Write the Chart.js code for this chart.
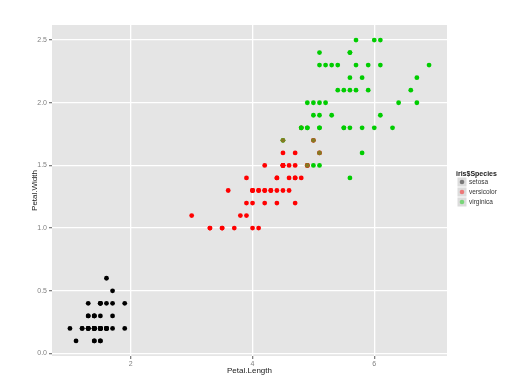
<!DOCTYPE html>
<html><head><meta charset="utf-8">
<script src="https://cdn.jsdelivr.net/npm/chart.js@4.4.0/dist/chart.umd.min.js"></script>
<style>html,body{margin:0;padding:0;background:#fff;}#wrap{width:531px;height:392px;}</style>
</head><body><div id="wrap"><canvas id="c" width="531" height="392"></canvas></div>
<script>
const speciesNames = ['setosa', 'versicolor', 'virginica'];
const speciesColors = ['#000000', '#ff0000', '#00cd00'];
const setosaLength = [1.4,1.4,1.3,1.5,1.4,1.7,1.4,1.5,1.4,1.5,1.5,1.6,1.4,1.1,1.2,1.5,1.3,1.4,1.7,1.5,1.7,1.5,1.0,1.7,1.9,1.6,1.6,1.5,1.4,1.6,1.6,1.5,1.5,1.4,1.5,1.2,1.3,1.4,1.3,1.5,1.3,1.3,1.3,1.6,1.9,1.4,1.6,1.4,1.5,1.4];
const setosaWidth = [0.2,0.2,0.2,0.2,0.2,0.4,0.3,0.2,0.2,0.1,0.2,0.2,0.1,0.1,0.2,0.4,0.4,0.3,0.3,0.3,0.2,0.4,0.2,0.5,0.2,0.2,0.4,0.2,0.2,0.2,0.2,0.4,0.1,0.2,0.2,0.2,0.2,0.1,0.2,0.2,0.3,0.3,0.2,0.6,0.4,0.3,0.2,0.2,0.2,0.2];
const versicolorLength = [4.7,4.5,4.9,4.0,4.6,4.5,4.7,3.3,4.6,3.9,3.5,4.2,4.0,4.7,3.6,4.4,4.5,4.1,4.5,3.9,4.8,4.0,4.9,4.7,4.3,4.4,4.8,5.0,4.5,3.5,3.8,3.7,3.9,5.1,4.5,4.5,4.7,4.4,4.1,4.0,4.4,4.6,4.0,3.3,4.2,4.2,4.2,4.3,3.0,4.1];
const versicolorWidth = [1.4,1.5,1.5,1.3,1.5,1.3,1.6,1.0,1.3,1.4,1.0,1.5,1.0,1.4,1.3,1.4,1.5,1.0,1.5,1.1,1.8,1.3,1.5,1.2,1.3,1.4,1.4,1.7,1.5,1.0,1.1,1.0,1.2,1.6,1.5,1.6,1.5,1.3,1.3,1.3,1.2,1.4,1.2,1.0,1.3,1.2,1.3,1.3,1.1,1.3];
const virginicaLength = [6.0,5.1,5.9,5.6,5.8,6.6,4.5,6.3,5.8,6.1,5.1,5.3,5.5,5.0,5.1,5.3,5.5,6.7,6.9,5.0,5.7,4.9,6.7,4.9,5.7,6.0,4.8,4.9,5.6,5.8,6.1,6.4,5.6,5.1,5.6,6.1,5.6,5.5,4.8,5.4,5.6,5.1,5.9,5.7,5.2,5.0,5.2,5.4,5.1,5.1];
const virginicaWidth = [2.5,1.9,2.1,1.8,2.2,2.1,1.7,1.8,1.8,2.5,2.0,1.9,2.1,2.0,2.4,2.3,1.8,2.2,2.3,1.5,2.3,2.0,2.0,1.8,2.1,1.8,1.8,1.8,2.1,1.6,1.9,2.0,2.2,1.5,1.4,2.3,2.4,1.8,1.8,2.1,2.4,2.3,2.3,2.5,2.3,1.9,2.0,2.3,1.8,1.8];
// points drawn in a mixed (olive) colour in the reference
const mixedLength = [4.9, 5.0, 5.1, 4.5];
const mixedWidth = [1.5, 1.7, 1.6, 1.7];
const xTicks = [2, 4, 6];
const yTicks = [0.0, 0.5, 1.0, 1.5, 2.0, 2.5];
const xTitle = 'Petal.Length';
const yTitle = 'Petal.Width';
const legendTitle = 'iris$Species';

const FONT = '"Liberation Sans", Arial, sans-serif';
const toPts = (xs, ys) => xs.map((x, i) => ({x: x, y: ys[i]}));
const seriesL = [setosaLength, versicolorLength, virginicaLength];
const seriesW = [setosaWidth, versicolorWidth, virginicaWidth];

const datasets = speciesNames.map((n, i) => ({
  label: n,
  data: toPts(seriesL[i], seriesW[i]),
  backgroundColor: speciesColors[i],
  borderWidth: 0,
  pointRadius: 2.4,
  pointHoverRadius: 2.4,
  order: 3 - i
}));
datasets.push({
  label: 'mixed',
  data: toPts(mixedLength, mixedWidth),
  backgroundColor: '#857a22',
  borderWidth: 0,
  pointRadius: 2.4,
  pointHoverRadius: 2.4,
  order: -1
});

const panelBg = {
  id: 'panelBg',
  beforeDraw(chart) {
    const {ctx, chartArea: a} = chart;
    ctx.save();
    ctx.fillStyle = '#e5e5e5';
    ctx.fillRect(a.left, a.top, a.right - a.left, a.bottom - a.top);
    ctx.restore();
  }
};

const decor = {
  id: 'decor',
  afterDraw(chart) {
    const {ctx, chartArea: a} = chart;
    ctx.save();
    ctx.fillStyle = '#1a1a1a';
    ctx.font = '8px ' + FONT;
    ctx.textAlign = 'center';
    ctx.textBaseline = 'middle';
    ctx.fillText(xTitle, (a.left + a.right) / 2, 371);
    ctx.save();
    ctx.translate(35, (a.top + a.bottom) / 2);
    ctx.rotate(-Math.PI / 2);
    ctx.fillText(yTitle, 0, 0);
    ctx.restore();
    // legend
    ctx.textAlign = 'left';
    ctx.font = 'bold 7px ' + FONT;
    ctx.fillText(legendTitle, 456, 174);
    ctx.font = '6.5px ' + FONT;
    speciesNames.forEach((n, i) => {
      const cy = 182 + i * 10;
      ctx.fillStyle = '#dcdcdc';
      ctx.fillRect(457.5, cy - 4.5, 9, 9);
      ctx.globalAlpha = 0.45;
      ctx.fillStyle = speciesColors[i];
      ctx.beginPath();
      ctx.arc(462, cy, 2.3, 0, Math.PI * 2);
      ctx.fill();
      ctx.globalAlpha = 1;
      ctx.fillStyle = '#333333';
      ctx.fillText(n, 469, cy + 0.5);
    });
    ctx.restore();
  }
};

const tickFont = {size: 7, family: FONT};
new Chart(document.getElementById('c'), {
  type: 'scatter',
  data: {datasets: datasets},
  options: {
    responsive: false,
    animation: false,
    devicePixelRatio: 1,
    layout: {padding: {top: 25, right: 84, left: 0, bottom: 0}},
    plugins: {legend: {display: false}, tooltip: {enabled: false}},
    scales: {
      x: {
        type: 'linear', min: 0.705, max: 7.195,
        afterBuildTicks: s => { s.ticks = xTicks.map(v => ({value: v})); },
        afterFit: s => { s.height = 36; },
        ticks: {color: '#808080', font: tickFont, padding: 1, autoSkip: false, maxRotation: 0, callback: v => String(v)},
        grid: {color: '#ffffff', lineWidth: 1.3, tickColor: '#808080', tickLength: 3},
        border: {display: false}
      },
      y: {
        type: 'linear', min: -0.02, max: 2.62,
        afterBuildTicks: s => { s.ticks = yTicks.map(v => ({value: v})); },
        afterFit: s => { s.width = 52; },
        ticks: {color: '#808080', font: tickFont, padding: 2, autoSkip: false, callback: v => Number(v).toFixed(1)},
        grid: {color: '#ffffff', lineWidth: 1.3, tickColor: '#808080', tickLength: 3},
        border: {display: false}
      }
    }
  },
  plugins: [panelBg, decor]
});
</script></body></html>
